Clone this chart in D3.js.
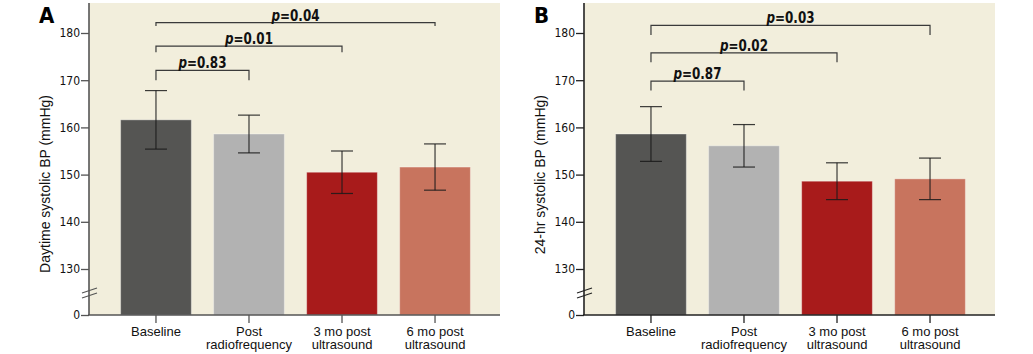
<!DOCTYPE html>
<html>
<head>
<meta charset="utf-8">
<script src="https://cdn.jsdelivr.net/npm/d3@7"></script>
<style>
  body { margin: 0; background: #fff; }
  svg { display: block; }
</style>
</head>
<body>
<svg id="chart"></svg>
<script>
const categories = [["Baseline"], ["Post", "radiofrequency"], ["3 mo post", "ultrasound"], ["6 mo post", "ultrasound"]];
const barColors = ["#555553", "#b2b2b2", "#a81b1b", "#c8745e"];
const yTicks = [0, 130, 140, 150, 160, 170, 180];

// panel A - daytime
const daytimeMean = [161.6, 158.6, 150.5, 151.6];
const daytimeErr = [6.2, 4.0, 4.5, 4.9];
const daytimePLabels = ["0.83", "0.01", "0.04"];
const daytimeBracketTop = [172.1, 177.2, 182.2];
const daytimeBracketLeg = [170.0, 175.9, 181.5];

// panel B - 24 hr
const ambMean = [158.6, 156.1, 148.6, 149.1];
const ambErr = [5.8, 4.5, 3.9, 4.4];
const ambPLabels = ["0.87", "0.02", "0.03"];
const ambBracketTop = [169.8, 175.8, 181.6];
const ambBracketLeg = [167.8, 173.8, 179.6];

const width = 1033;
const height = 354;
const narrow = '"Liberation Sans Narrow", "Arial Narrow", "DejaVu Sans Condensed", sans-serif';
const regular = '"Liberation Sans", Arial, sans-serif';

const svg = d3.select('#chart')
              .attr('width', width)
              .attr('height', height);

// y scale with break between 0 and 130
const y = d3.scaleLinear()
            .domain([0, 130, 180])
            .range([315, 269, 33]);

const x = d3.scaleBand()
            .domain(d3.range(categories.length))
            .range([89, 502])
            .paddingInner(0.24)
            .paddingOuter(0.34);

function drawPanel(offsetX, letter, title, mean, err, pLabels, bTop, bLeg, axisColor) {
    const g = svg.append('g').attr('transform', `translate(${offsetX},0)`);

    g.append('rect')
     .attr('x', 89).attr('y', 3)
     .attr('width', 411).attr('height', 312)
     .attr('fill', '#f2eedc');

    g.selectAll('rect.bar')
     .data(mean)
     .enter()
     .append('rect')
     .attr('class', 'bar')
     .attr('x', (d, i) => x(i))
     .attr('y', d => y(d))
     .attr('width', x.bandwidth())
     .attr('height', d => y(0) - y(d))
     .attr('fill', (d, i) => barColors[i])
     .attr('stroke', '#ffffff')
     .attr('stroke-opacity', 0.35)
     .attr('stroke-width', 1);

    // error bars
    const eb = g.selectAll('g.err')
                .data(mean)
                .enter()
                .append('g')
                .attr('class', 'err')
                .attr('stroke', '#1a1a1a')
                .attr('stroke-width', 1.2)
                .attr('stroke-opacity', 0.85);
    eb.append('line')
      .attr('x1', (d, i) => x(i) + x.bandwidth() / 2)
      .attr('x2', (d, i) => x(i) + x.bandwidth() / 2)
      .attr('y1', (d, i) => y(d + err[i]))
      .attr('y2', (d, i) => y(d - err[i]));
    [1, -1].forEach(s => {
        eb.append('line')
          .attr('x1', (d, i) => x(i) + x.bandwidth() / 2 - 11)
          .attr('x2', (d, i) => x(i) + x.bandwidth() / 2 + 11)
          .attr('y1', (d, i) => y(d + s * err[i]))
          .attr('y2', (d, i) => y(d + s * err[i]));
    });

    // brackets
    const cx = i => x(i) + x.bandwidth() / 2;
    pLabels.forEach((p, k) => {
        const x0 = cx(0), x1 = cx(k + 1);
        g.append('path')
         .attr('d', `M${x0},${y(bLeg[k])}V${y(bTop[k])}H${x1}V${y(bLeg[k])}`)
         .attr('fill', 'none')
         .attr('stroke', '#3a3a3a')
         .attr('stroke-width', 1.2);
        const t = g.append('text')
                   .attr('x', (x0 + x1) / 2)
                   .attr('y', y(bTop[k]) - 2)
                   .attr('text-anchor', 'middle')
                   .attr('textLength', 48)
                   .attr('lengthAdjust', 'spacingAndGlyphs')
                   .style('font-family', narrow)
                   .style('font-weight', 'bold')
                   .style('font-size', '15px')
                   .style('fill', '#111');
        t.append('tspan').style('font-style', 'italic').text('p');
        t.append('tspan').text('=' + p);
    });

    // y axis
    const yAxis = g.append('g')
                   .attr('transform', 'translate(89,0)')
                   .call(d3.axisLeft(y).tickValues(yTicks).tickSize(8).tickSizeOuter(0).tickPadding(1));
    yAxis.select('.domain').remove();
    yAxis.selectAll('.tick line').attr('stroke', axisColor).attr('stroke-width', 1.3);
    yAxis.selectAll('.tick text')
         .style('font-family', narrow)
         .style('font-size', '12px')
         .style('fill', '#111');
    g.append('line')
     .attr('x1', 89).attr('x2', 89).attr('y1', 3).attr('y2', 315)
     .attr('stroke', axisColor).attr('stroke-width', 1.6);

    // axis break marks
    [0, 5].forEach(dy => {
        g.append('line')
         .attr('x1', 82).attr('y1', 293 + dy)
         .attr('x2', 97).attr('y2', 288 + dy)
         .attr('stroke', axisColor).attr('stroke-width', 1.2);
    });

    // x axis
    const xAxis = g.append('g')
                   .attr('transform', 'translate(0,315)')
                   .call(d3.axisBottom(x).tickSize(8).tickSizeOuter(0).tickFormat(''));
    xAxis.select('.domain').remove();
    xAxis.selectAll('.tick line').attr('stroke', axisColor).attr('stroke-width', 1.3);
    g.append('line')
     .attr('x1', 88).attr('x2', 500).attr('y1', 315).attr('y2', 315)
     .attr('stroke', axisColor).attr('stroke-width', 1.6);

    const xl = g.selectAll('text.xlab')
                .data(categories)
                .enter()
                .append('text')
                .attr('class', 'xlab')
                .attr('text-anchor', 'middle')
                .attr('transform', (d, i) => `translate(${cx(i)},336)`)
                .style('font-family', regular)
                .style('font-size', '13px')
                .style('fill', '#111');
    xl.selectAll('tspan')
      .data(d => d)
      .enter()
      .append('tspan')
      .attr('x', 0)
      .attr('dy', (d, i) => i === 0 ? 0 : 13)
      .text(d => d);

    // y title
    g.append('text')
     .attr('transform', 'translate(50,95) rotate(-90)')
     .attr('text-anchor', 'end')
     .style('font-family', regular)
     .style('font-size', '14px')
     .style('fill', '#111')
     .text(title);

    // panel letter
    g.append('text')
     .attr('x', 39)
     .attr('y', 23)
     .style('font-family', narrow)
     .style('font-weight', 'bold')
     .style('font-size', '22px')
     .style('fill', '#000')
     .text(letter);
}

drawPanel(0, 'A', 'Daytime systolic BP (mmHg)', daytimeMean, daytimeErr, daytimePLabels, daytimeBracketTop, daytimeBracketLeg, '#555');
drawPanel(495, 'B', '24-hr systolic BP (mmHg)', ambMean, ambErr, ambPLabels, ambBracketTop, ambBracketLeg, '#222');
</script>
</body>
</html>
